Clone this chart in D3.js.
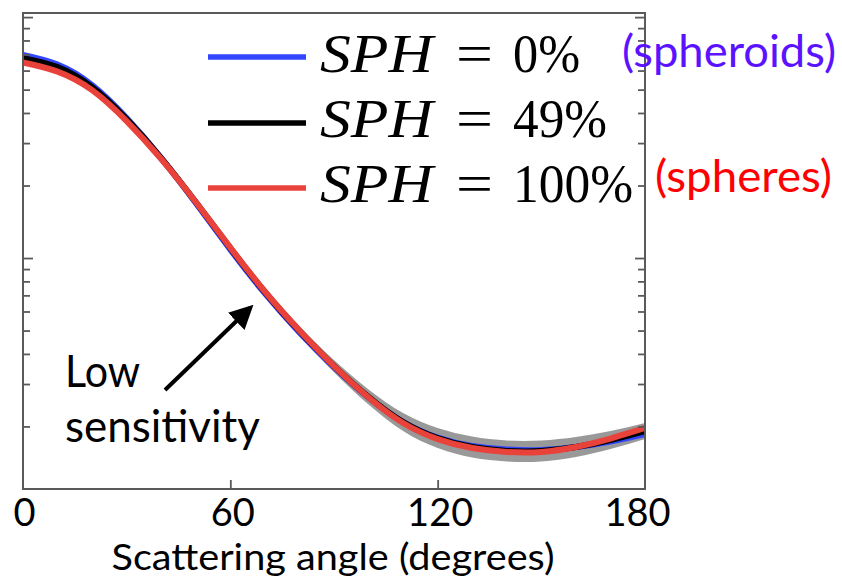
<!DOCTYPE html>
<html>
<head>
<meta charset="utf-8">
<script src="https://cdn.jsdelivr.net/npm/d3@7/dist/d3.min.js"></script>
<style>
  html, body { margin: 0; padding: 0; background: #fff; }
  svg { display: block; }
</style>
</head>
<body>
<svg id="chart" width="842" height="580"></svg>
<script>
// ---- data ----
const angles = [0, 10, 20, 30, 40, 50, 60, 70, 80, 90, 100, 110, 120, 130, 140, 150, 160, 170, 180];
const sph0   = [6.96, 6.35, 5.22, 3.81, 2.60, 1.692, 1.084, 0.713, 0.491, 0.3526, 0.2637, 0.2087, 0.1799, 0.1659, 0.1605, 0.1597, 0.1643, 0.1732, 0.1861];
const sph49  = [6.76, 6.20, 5.12, 3.77, 2.60, 1.708, 1.100, 0.723, 0.498, 0.356, 0.265, 0.2087, 0.179, 0.1643, 0.1582, 0.1582, 0.1643, 0.1757, 0.1915];
const sph100 = [6.48, 5.94, 4.975, 3.70, 2.575, 1.708, 1.105, 0.7265, 0.5004, 0.356, 0.2637, 0.2067, 0.1773, 0.1627, 0.1567, 0.1567, 0.1643, 0.1782, 0.1971];
const band49Upper = [6.89, 6.32, 5.22, 3.84, 2.663, 1.758, 1.137, 0.751, 0.522, 0.377, 0.2847, 0.2274, 0.197, 0.1817, 0.1749, 0.1749, 0.1808, 0.1915, 0.2067];
const band49Lower = [6.63, 6.08, 5.02, 3.70, 2.539, 1.660, 1.064, 0.696, 0.475, 0.336, 0.2467, 0.1915, 0.1627, 0.1486, 0.1431, 0.1431, 0.1493, 0.1612, 0.1774];
const xTickValues = [0, 60, 120, 180];
const yMinorTicks = [0.2, 0.3, 0.4, 0.5, 0.6, 0.7, 0.8, 0.9, 2, 3, 4, 5, 6, 7, 8, 9];
const yMajorTicks = [1, 10];
const legendLabels = ["0%", "49%", "100%"];

const svg = d3.select("#chart");
const L = 23, R = 645, T = 13, B = 489;

const x = d3.scaleLinear().domain([0, 180]).range([L, R]);
const y = d3.scaleLog().domain([0.11, 10.4]).range([B, T]);

const frameColor = "#5a5a5a";
const blue = "#3346ff", red = "#e8423a", black = "#000";

const defs = svg.append("defs");
defs.append("filter").attr("id", "soft").attr("x", "-5%").attr("y", "-20%").attr("width", "110%").attr("height", "140%")
  .append("feGaussianBlur").attr("stdDeviation", 0.7);
defs.append("marker").attr("id", "arrow").attr("viewBox", "0 0 10 10")
  .attr("refX", 8).attr("refY", 5).attr("markerWidth", 6).attr("markerHeight", 6)
  .attr("markerUnits", "strokeWidth").attr("orient", "auto")
  .append("path").attr("d", "M0,0 L10,5 L0,10 z").attr("fill", "#000");

// ---- grey envelope ----
const bandData = angles.map((a, i) => ({ a, lo: band49Lower[i], hi: band49Upper[i] }));
svg.append("path")
  .datum(bandData)
  .attr("d", d3.area().x(d => x(d.a)).y0(d => y(d.lo)).y1(d => y(d.hi)).curve(d3.curveNatural))
  .attr("fill", "#999999")
  .attr("filter", "url(#soft)");

// ---- curves ----
const line = d3.line().x(d => x(d.a)).y(d => y(d.v)).curve(d3.curveNatural);
const series = [
  { vals: sph0, color: blue },
  { vals: sph49, color: black },
  { vals: sph100, color: red }
];
series.forEach(s => {
  svg.append("path")
    .datum(angles.map((a, i) => ({ a, v: s.vals[i] })))
    .attr("d", line)
    .attr("fill", "none")
    .attr("stroke", s.color)
    .attr("stroke-width", 6)
    .attr("stroke-linejoin", "round");
});

// ---- frame + axes ----
svg.append("rect").attr("x", L).attr("y", T).attr("width", R - L).attr("height", B - T)
  .attr("fill", "none").attr("stroke", frameColor).attr("stroke-width", 2);

function styleAxis(g) {
  g.select(".domain").remove();
  g.selectAll(".tick line").attr("stroke", frameColor).attr("stroke-width", 1.8);
}
svg.append("g").attr("transform", `translate(${L},0)`)
  .call(d3.axisRight(y).tickValues(yMinorTicks).tickSize(7).tickFormat(""))
  .call(styleAxis);
svg.append("g").attr("transform", `translate(${L},0)`)
  .call(d3.axisRight(y).tickValues(yMajorTicks).tickSize(10).tickFormat(""))
  .call(styleAxis);
svg.append("g").attr("transform", `translate(${R},0)`)
  .call(d3.axisLeft(y).tickValues(yMinorTicks).tickSize(7).tickFormat(""))
  .call(styleAxis);
svg.append("g").attr("transform", `translate(${R},0)`)
  .call(d3.axisLeft(y).tickValues(yMajorTicks).tickSize(10).tickFormat(""))
  .call(styleAxis);

const xAxis = svg.append("g").attr("transform", `translate(0,${B})`)
  .call(d3.axisBottom(x).tickValues(xTickValues).tickSizeInner(-9).tickSizeOuter(0).tickPadding(10).tickFormat(d3.format("d")));
xAxis.select(".domain").remove();
xAxis.selectAll(".tick line").attr("stroke", frameColor).attr("stroke-width", 1.8)
  .filter(d => d === 0 || d === 180).remove();
xAxis.selectAll(".tick text")
  .attr("fill", "#000")
  .style("font-family", "Lato, 'Open Sans', sans-serif")
  .style("font-size", "38px")
  .attr("dx", d => d === 180 ? -8 : (d === 0 ? 1 : 2));

svg.append("text")
  .attr("x", 333).attr("y", 570)
  .attr("text-anchor", "middle")
  .attr("textLength", 443).attr("lengthAdjust", "spacingAndGlyphs")
  .style("font-family", "Lato, 'Open Sans', sans-serif")
  .style("font-size", "36px")
  .attr("fill", "#000")
  .text("Scattering angle (degrees)");

// ---- legend ----
const legRows = [
  { y: 57, color: blue, label: legendLabels[0], base: 72, w: 67 },
  { y: 123, color: black, label: legendLabels[1], base: 137, w: 94 },
  { y: 188, color: red, label: legendLabels[2], base: 202, w: 120 }
];
legRows.forEach((r, i) => {
  if (i === 1) {
    svg.append("line").attr("x1", 207).attr("x2", 307).attr("y1", r.y).attr("y2", r.y)
      .attr("stroke", "#9b9b9b").attr("stroke-width", 11).attr("filter", "url(#soft)");
  }
  svg.append("line").attr("x1", 208).attr("x2", 306).attr("y1", r.y).attr("y2", r.y)
    .attr("stroke", r.color).attr("stroke-width", 5.5);
  svg.append("text").attr("x", 320).attr("y", r.base)
    .attr("textLength", 113).attr("lengthAdjust", "spacingAndGlyphs")
    .style("font-family", "'Liberation Serif', 'DejaVu Serif', serif")
    .style("font-style", "italic").style("font-size", "55px").attr("fill", "#000")
    .text("SPH");
  svg.append("text").attr("x", 456).attr("y", r.base)
    .attr("textLength", 37).attr("lengthAdjust", "spacingAndGlyphs")
    .style("font-family", "'Liberation Serif', 'DejaVu Serif', serif")
    .style("font-size", "55px").attr("fill", "#000")
    .text("=");
  svg.append("text").attr("x", 513).attr("y", r.base)
    .attr("textLength", r.w).attr("lengthAdjust", "spacingAndGlyphs")
    .style("font-family", "'Liberation Serif', 'DejaVu Serif', serif")
    .style("font-size", "55px").attr("fill", "#000")
    .text(r.label);
});

svg.append("text").attr("x", 622).attr("y", 67)
  .attr("textLength", 214).attr("lengthAdjust", "spacingAndGlyphs")
  .style("font-family", "Lato, 'Open Sans', sans-serif").style("font-size", "44px")
  .attr("fill", "#5a12ff").text("(spheroids)");
svg.append("text").attr("x", 655).attr("y", 192)
  .attr("textLength", 177).attr("lengthAdjust", "spacingAndGlyphs")
  .style("font-family", "Lato, 'Open Sans', sans-serif").style("font-size", "44px")
  .attr("fill", "#ff0000").text("(spheres)");

// ---- annotation ----
svg.append("text").attr("x", 65).attr("y", 387)
  .attr("textLength", 75).attr("lengthAdjust", "spacingAndGlyphs")
  .style("font-family", "Lato, 'Open Sans', sans-serif").style("font-size", "44px")
  .attr("fill", "#000").text("Low");
svg.append("text").attr("x", 65).attr("y", 442)
  .attr("textLength", 195).attr("lengthAdjust", "spacingAndGlyphs")
  .style("font-family", "Lato, 'Open Sans', sans-serif").style("font-size", "44px")
  .attr("fill", "#000").text("sensitivity");
svg.append("line")
  .attr("x1", 165).attr("y1", 390).attr("x2", 250).attr("y2", 308)
  .attr("stroke", "#000").attr("stroke-width", 4)
  .attr("marker-end", "url(#arrow)");
</script>
</body>
</html>
